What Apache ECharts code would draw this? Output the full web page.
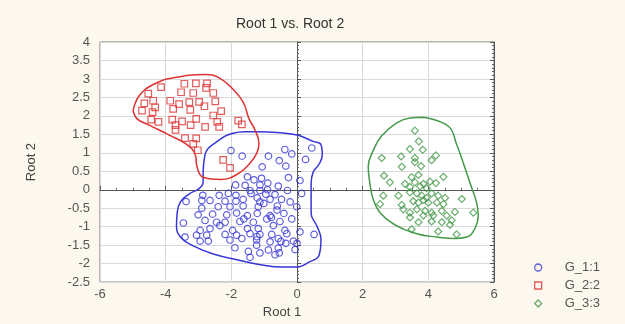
<!DOCTYPE html>
<html>
<head>
<meta charset="utf-8">
<script src="https://cdn.jsdelivr.net/npm/echarts@6/dist/echarts.min.js"></script>
<style>
  html, body { margin: 0; padding: 0; background: #fcf8ed; }
  #chart { width: 625px; height: 324px; }
</style>
</head>
<body>
<div id="chart"></div>
<script>
// Canonical scores: Root 1 vs. Root 2 for three groups
const chartTitle = 'Root 1 vs. Root 2';
const xName = 'Root 1';
const yName = 'Root 2';
const groupNames = ['G_1:1', 'G_2:2', 'G_3:3'];

// axis ranges
const xMin = -6, xMax = 6, xStep = 2;
const yMin = -2.5, yMax = 4, yStep = 0.5;

// group 1 scores [root1, root2]
const g1Points = [
  [-2.01,1.06],[-0.37,1.09],[0.45,1.13],[-1.67,0.91],[-0.87,0.91],[-0.16,0.97],[-0.54,0.79],[0.26,0.82],[-1.06,0.62],[-0.34,0.64],
  [-1.51,0.35],[-1.31,0.27],[-1.08,0.31],[-0.26,0.33],[0.09,0.25],[-1.87,0.13],[-1.58,0.12],[-1.13,0.13],[-0.89,0.18],[-0.57,0.10],
  [-2.87,-0.15],[-2.37,-0.15],[-2.09,-0.10],[-1.86,-0.15],[-1.43,-0.02],[-1.13,-0.02],[-0.90,0.00],[-0.67,-0.13],[-0.29,-0.02],[0.14,-0.10],
  [-3.38,-0.32],[-2.90,-0.29],[-2.65,-0.29],[-2.19,-0.31],[-1.86,-0.31],[-1.64,-0.26],[-1.21,-0.22],[-1.13,-0.33],[-0.82,-0.26],[-0.47,-0.26],[-0.21,-0.33],
  [-2.90,-0.50],[-2.40,-0.46],[-2.04,-0.46],[-1.64,-0.44],[-1.18,-0.46],[-0.60,-0.44],[-0.01,-0.46],
  [-3.01,-0.68],[-2.57,-0.66],[-2.14,-0.68],[-1.84,-0.63],[-1.51,-0.70],[-1.21,-0.64],[-0.82,-0.70],[-0.40,-0.64],
  [-2.80,-0.83],[-2.19,-0.88],[-1.74,-0.86],[-1.33,-0.88],[-0.92,-0.79],[-0.52,-0.86],[-0.16,-0.79],[-3.46,-0.90],[-2.45,-0.88],
  [-2.95,-1.10],[-2.65,-1.05],[-2.35,-0.97],[-1.96,-1.10],[-1.51,-1.05],[-1.18,-1.05],[-0.72,-0.97],[-0.37,-1.10],
  [-3.06,-1.23],[-2.75,-1.23],[-2.19,-1.21],[-1.84,-1.23],[-1.43,-1.19],[-1.13,-1.21],[-0.77,-1.21],[-0.31,-1.19],[0.09,-1.14],[0.52,-1.21],
  [-3.41,-1.28],[-2.95,-1.39],[-2.70,-1.39],[-2.04,-1.36],[-1.68,-1.32],[-1.23,-1.36],[-0.82,-1.41],[-0.57,-1.32],[-0.34,-1.45],[-0.11,-1.39],
  [-1.89,-1.57],[-1.48,-1.67],[-1.23,-1.50],[-0.87,-1.63],[-0.57,-1.58],[-0.06,-1.62],
  [-1.43,-1.83],[-0.67,-1.76],[-1.13,-1.71],
  [-1.01,-0.37],[-0.61,-0.55],[-1.62,-0.79],[-0.78,-0.75],[-1.22,-1.27],[-0.49,-1.40],[-0.54,-1.71],[0.00,-1.45],[-1.40,-0.10],[-0.95,-0.12]
];

// group 2 scores
const g2Points = [
  [-3.43,2.87],[-3.08,2.88],[-2.74,2.88],[-2.77,2.76],[-4.14,2.78],[-4.53,2.60],[-3.53,2.64],[-3.16,2.62],[-2.55,2.62],
  [-4.38,2.41],[-3.86,2.41],[-3.59,2.32],[-3.28,2.37],[-2.98,2.38],[-2.49,2.39],[-4.65,2.34],[-4.32,2.23],[-3.77,2.19],
  [-3.25,2.16],[-2.82,2.26],[-2.31,2.13],[-4.72,2.14],[-4.40,2.10],[-2.55,2.01],[-3.80,1.90],[-3.50,1.85],[-3.07,1.92],
  [-4.44,1.90],[-4.22,1.84],[-3.70,1.75],[-3.24,1.75],[-2.80,1.70],[-2.43,1.84],[-2.37,1.70],[-1.79,1.87],[-1.68,1.77],
  [-3.70,1.62],[-3.41,1.40],[-3.07,1.39],[-3.16,1.24],[-3.02,1.07],[-2.25,0.81],[-2.04,0.59]
];

// group 3 scores
const g3Points = [
  [3.59,1.60],[3.71,1.31],[3.44,1.10],[3.83,1.08],[4.23,0.93],[4.10,0.80],[3.17,0.90],[3.59,0.86],[2.58,0.86],[3.59,0.75],
  [3.78,0.64],[3.19,0.62],[2.65,0.38],[3.49,0.34],[3.70,0.40],[4.46,0.35],[2.83,0.20],[3.29,0.16],[3.59,0.20],[3.85,0.16],
  [4.05,0.22],[4.23,0.18],[3.44,0.07],[3.75,0.09],[3.95,0.04],[2.63,-0.16],[3.09,-0.16],[3.44,-0.07],[3.65,-0.10],[3.80,-0.16],
  [3.95,-0.22],[4.10,-0.10],[4.30,-0.16],[4.51,-0.22],[5.02,-0.25],[2.53,-0.39],[3.19,-0.41],[3.54,-0.31],[3.70,-0.35],[3.85,-0.28],
  [4.00,-0.35],[4.26,-0.35],[4.46,-0.39],[3.24,-0.53],[3.44,-0.62],[3.65,-0.53],[3.90,-0.57],[4.10,-0.62],[4.41,-0.57],[4.81,-0.60],
  [5.37,-0.62],[3.44,-0.75],[3.85,-0.70],[4.15,-0.70],[4.56,-0.70],[4.71,-0.83],[3.70,-0.88],[4.10,-0.86],[4.41,-0.88],[4.66,-0.95],
  [3.49,-1.07],[4.30,-1.13],[4.86,-1.21]
];

// hand-drawn group boundaries
const g1Outline = [
  [-2.86,0.34],[-2.80,0.95],[-2.43,1.31],[-1.95,1.53],[-1.58,1.57],[-1.22,1.57],[-0.49,1.54],[0.00,1.48],[0.49,1.31],[0.73,1.22],
  [0.77,0.95],[0.67,0.69],[0.49,0.47],[0.43,0.16],[0.43,-0.19],[0.43,-0.64],[0.61,-0.99],[0.73,-1.34],[0.67,-1.78],[0.36,-1.96],
  [0.00,-2.09],[-0.49,-2.09],[-0.97,-2.05],[-1.70,-1.92],[-2.55,-1.74],[-3.16,-1.52],[-3.53,-1.30],[-3.67,-0.99],[-3.65,-0.64],
  [-3.55,-0.33],[-3.28,-0.11],[-2.98,0.03],[-2.86,0.20]
];
const g2Outline = [
  [-4.99,2.14],[-4.81,2.54],[-4.38,2.85],[-3.77,3.03],[-2.80,3.12],[-2.37,3.03],[-1.95,2.72],[-1.64,2.37],[-1.46,1.92],[-1.28,1.62],
  [-1.16,1.26],[-1.22,1.00],[-1.46,0.69],[-1.82,0.42],[-2.31,0.28],[-2.86,0.34],[-3.04,0.60],[-3.10,0.95],[-3.35,1.22],[-3.89,1.48],
  [-4.50,1.75],[-4.87,1.92]
];
const g3Outline = [
  [3.85,1.96],[4.61,1.72],[4.86,1.23],[5.07,0.71],[5.27,0.18],[5.47,-0.35],[5.52,-0.70],[5.42,-1.05],[5.17,-1.28],[4.81,-1.32],
  [4.25,-1.28],[3.65,-1.19],[2.93,-0.92],[2.53,-0.62],[2.32,-0.26],[2.22,0.18],[2.17,0.62],[2.32,1.06],[2.58,1.46],[3.04,1.81],
  [3.44,1.94]
];

const colors = ['#3636d8', '#dd3333', '#45994a'];
const symbols = ['circle', 'rect', 'diamond'];
const font = '"Liberation Sans", Arial, sans-serif';

function closed(pts) { return pts.concat([pts[0]]); }

const pointSets = [g1Points, g2Points, g3Points];
const outlines = [g1Outline, g2Outline, g3Outline];

const series = [];
outlines.forEach((o, i) => {
  series.push({
    type: 'line', data: closed(o), smooth: 0.45, symbol: 'none', silent: true, z: 1,
    lineStyle: { color: colors[i], width: 1.5 }
  });
});
pointSets.forEach((p, i) => {
  series.push({
    name: groupNames[i], type: 'scatter', data: p, symbol: symbols[i],
    symbolSize: i === 2 ? 7 : 6.5, z: 3,
    itemStyle: { color: 'rgba(255,255,255,0)', borderColor: colors[i], borderWidth: 1.2 }
  });
});

const axisLineStyle = { color: '#555', width: 1 };
const labelStyle = { color: '#555', fontSize: 13, fontFamily: font };

const option = {
  backgroundColor: '#fcf8ed',
  animation: false,
  title: {
    text: chartTitle, left: 231, top: 12,
    textStyle: { fontFamily: font, fontSize: 14, fontWeight: 'normal', color: '#333' }
  },
  grid: {
    left: 100, top: 42, width: 394, height: 246,
    show: true, backgroundColor: '#ffffff', borderColor: '#777', borderWidth: 1
  },
  legend: {
    orient: 'vertical', left: 529, top: 256, itemWidth: 7, itemHeight: 7, itemGap: 5,
    textStyle: { fontFamily: font, fontSize: 13, color: '#555', padding: [0, 0, 0, 18] },
    data: groupNames.map((n, i) => ({
      name: n, icon: symbols[i],
      itemStyle: { color: 'rgba(255,255,255,0)', borderColor: colors[i], borderWidth: 1.3 }
    }))
  },
  xAxis: {
    type: 'value', min: xMin, max: xMax, interval: xStep,
    name: xName, nameLocation: 'middle', nameGap: 21,
    nameTextStyle: { fontFamily: font, fontSize: 13, color: '#444', padding: [0, 30, 0, 0] },
    axisLine: { show: true, lineStyle: axisLineStyle },
    axisTick: { show: true, inside: true, length: 4, lineStyle: axisLineStyle },
    minorTick: { show: true, splitNumber: 4, length: 2, lineStyle: { color: '#666' } },
    splitLine: { show: true, lineStyle: { color: '#d9d9d9', width: 1 } },
    axisLabel: Object.assign({ margin: 6 }, labelStyle)
  },
  yAxis: [{
    type: 'value', min: yMin, max: yMax, interval: yStep,
    name: yName, nameLocation: 'middle', nameGap: 62, nameRotate: 90,
    nameTextStyle: { fontFamily: font, fontSize: 13, color: '#444' },
    axisLine: { show: true, lineStyle: axisLineStyle },
    axisTick: { show: true, inside: true, length: 4, lineStyle: axisLineStyle },
    minorTick: { show: true, splitNumber: 5, length: 2, lineStyle: { color: '#666' } },
    splitLine: { show: true, lineStyle: { color: '#d9d9d9', width: 1 } },
    axisLabel: Object.assign({ margin: 10 }, labelStyle)
  }, {
    type: 'value', min: yMin, max: yMax, interval: yStep, position: 'right',
    axisLine: { show: true, lineStyle: axisLineStyle },
    axisTick: { show: true, inside: true, length: 4, lineStyle: axisLineStyle },
    minorTick: { show: true, splitNumber: 5, length: 2, lineStyle: { color: '#666' } },
    splitLine: { show: false },
    axisLabel: { show: false }
  }],
  series: series
};

const chart = echarts.init(document.getElementById('chart'));
chart.setOption(option);
</script>
</body>
</html>
